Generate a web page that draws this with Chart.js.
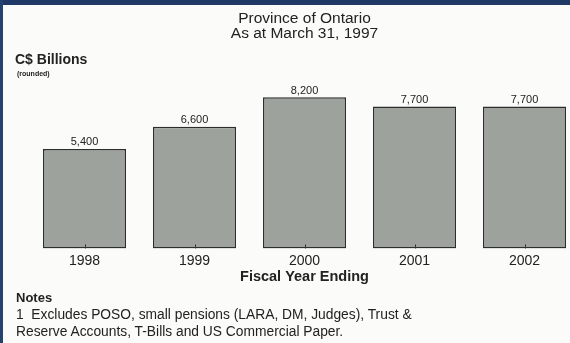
<!DOCTYPE html>
<html lang="en">
<head>
    <meta charset="UTF-8">
    <title>Province of Ontario - Fiscal Year Ending</title>
    <script src="https://cdn.jsdelivr.net/npm/chart.js"></script>
    <style>
        body {
            margin: 0;
            width: 570px;
            height: 343px;
            overflow: hidden;
            position: relative;
            background-color: #fbfbf9;
            font-family: "Liberation Sans", Arial, Helvetica, sans-serif;
            color: #222;
        }
        .topbar {
            position: absolute; left: 0; top: 0;
            width: 570px; height: 5px;
            background-color: #1f3866;
        }
        .sidebar {
            position: absolute; left: 0; top: 0;
            width: 3px; height: 343px;
            background-color: #24426f;
        }
        .chart-box {
            position: absolute; left: 0; top: 0;
            width: 590px; height: 292px;
        }
        .units {
            position: absolute; left: 15px; top: 51px;
            font-weight: bold; font-size: 14px;
        }
        .units small {
            display: block;
            font-size: 7px;
            margin-top: 3px;
            margin-left: 2px;
        }
        .notes {
            position: absolute; left: 16px; top: 289px;
            font-size: 13.8px; line-height: 17px;
        }
        .notes b { display: block; font-size: 13px; }
    </style>
</head>
<body>
    <div class="topbar"></div>
    <div class="sidebar"></div>

    <div class="chart-box">
        <canvas id="debtChart"></canvas>
    </div>

    <div class="units">C$ Billions<small>(rounded)</small></div>

    <div class="notes">
        <b>Notes</b>
        1&nbsp; Excludes POSO, small pensions (LARA, DM, Judges), Trust &amp;<br>
        Reserve Accounts, T-Bills and US Commercial Paper.
    </div>

    <script>
        const years = ['1998', '1999', '2000', '2001', '2002'];
        const amounts = [5400, 6600, 8200, 7700, 7700];
        const titleLines = ['Province of Ontario', 'As at March 31, 1997'];
        const axisTitle = 'Fiscal Year Ending';

        const fontFamily = '"Liberation Sans", Arial, Helvetica, sans-serif';

        // value above each bar plus the small tick at the bottom centre
        const barLabels = {
            id: 'barLabels',
            afterDatasetsDraw(chart) {
                const ctx = chart.ctx;
                const meta = chart.getDatasetMeta(0);
                ctx.save();
                ctx.font = '11px ' + fontFamily;
                ctx.fillStyle = '#222';
                ctx.textAlign = 'center';
                ctx.textBaseline = 'bottom';
                meta.data.forEach((bar, i) => {
                    const v = chart.data.datasets[0].data[i];
                    ctx.fillText(v.toLocaleString('en-US'), bar.x, bar.y - 1);
                    ctx.strokeStyle = '#333';
                    ctx.lineWidth = 1;
                    ctx.beginPath();
                    ctx.moveTo(Math.round(bar.x) + 0.5, bar.base);
                    ctx.lineTo(Math.round(bar.x) + 0.5, bar.base - 4);
                    ctx.stroke();
                });
                ctx.restore();
            }
        };

        new Chart(document.getElementById('debtChart'), {
            type: 'bar',
            data: {
                labels: years,
                datasets: [{
                    data: amounts,
                    backgroundColor: '#9ea29d',
                    borderColor: '#2d2d2d',
                    borderWidth: 1.5,
                    borderSkipped: false,
                    barPercentage: 0.755,
                    categoryPercentage: 1
                }]
            },
            options: {
                responsive: true,
                maintainAspectRatio: false,
                animation: false,
                layout: {
                    padding: { left: 29.5, right: 10.5, top: 0, bottom: 8 }
                },
                plugins: {
                    legend: { display: false },
                    tooltip: { enabled: false },
                    title: {
                        display: true,
                        text: titleLines,
                        fullSize: false,
                        color: '#222',
                        font: { family: fontFamily, size: 15.5, weight: 'normal', lineHeight: 0.97 },
                        padding: { top: 11.5, bottom: 22.5 }
                    }
                },
                scales: {
                    x: {
                        grid: { display: false, drawTicks: false },
                        border: { display: false },
                        ticks: {
                            color: '#222',
                            padding: 6,
                            font: { family: fontFamily, size: 14, lineHeight: 1 }
                        },
                        title: {
                            display: true,
                            text: axisTitle,
                            color: '#222',
                            padding: { top: -5, bottom: 0 },
                            font: { family: fontFamily, size: 14.5, weight: 'bold', lineHeight: 1 }
                        }
                    },
                    y: {
                        display: false,
                        min: 0,
                        max: 10000
                    }
                }
            },
            plugins: [barLabels]
        });
    </script>
</body>
</html>
